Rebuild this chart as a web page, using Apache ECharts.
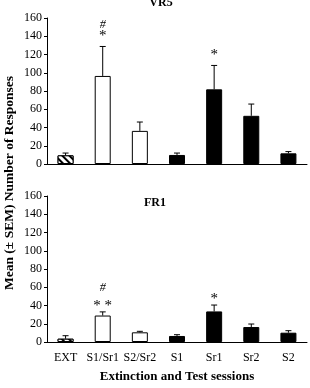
<!DOCTYPE html>
<html>
<head>
<meta charset="utf-8">
<script src="https://cdn.jsdelivr.net/npm/echarts@6/dist/echarts.min.js"></script>
<style>
  html, body { margin: 0; padding: 0; background: #fff; }
  #chart { width: 310px; height: 388px; }
</style>
</head>
<body>
<div id="chart"></div>
<script>
  const categories = ["EXT", "S1/Sr1", "S2/Sr2", "S1", "Sr1", "Sr2", "S2"];
  const yTicks = [0, 20, 40, 60, 80, 100, 120, 140, 160];

  // VR5 (top panel)
  const vr5Mean = [9.5, 96.5, 36.3, 9.9, 81.8, 52.8, 11.7];
  const vr5Upper = [12, 128.8, 46, 12, 108, 65.7, 13.6];
  const vr5Star = ["", "*", "", "", "*", "", ""];
  const vr5Hash = ["", "#", "", "", "", "", ""];

  // FR1 (bottom panel)
  const fr1Mean = [3.6, 29, 10.6, 6.6, 33.5, 16.4, 10.2];
  const fr1Upper = [6.9, 33, 11.7, 8, 40.5, 19.7, 12.4];
  const fr1Star = ["", "* *", "", "", "*", "", ""];
  const fr1Hash = ["", "#", "", "", "", "", ""];

  const fill = ["hatch", "open", "open", "solid", "solid", "solid", "solid"];
  const serif = "Liberation Serif";

  function barData(values) {
    return values.map((v, i) => {
      const item = { value: v, itemStyle: { borderColor: "#000", borderWidth: 1 } };
      if (fill[i] === "solid") {
        item.itemStyle.color = "#000";
      } else {
        item.itemStyle.color = "#fff";
      }
      if (fill[i] === "hatch") {
        item.itemStyle.decal = {
          symbol: "rect",
          color: "#000",
          backgroundColor: "#fff",
          dashArrayX: [1, 0],
          dashArrayY: [2, 3],
          rotation: Math.PI / 4,
        };
      }
      return item;
    });
  }

  function errorSeries(idx, means, uppers, stars, hashes, starGap, hashGap) {
    return {
      type: "custom",
      xAxisIndex: idx,
      yAxisIndex: idx,
      silent: true,
      z: 5,
      data: means.map((m, i) => [i, m, uppers[i]]),
      renderItem: function (params, api) {
        const i = api.value(0);
        const p0 = api.coord([i, api.value(1)]);
        const p1 = api.coord([i, api.value(2)]);
        const cap = 3;
        const children = [
          { type: "line", shape: { x1: p0[0], y1: p0[1], x2: p1[0], y2: p1[1] }, style: { stroke: "#000", lineWidth: 1 } },
          { type: "line", shape: { x1: p1[0] - cap, y1: p1[1], x2: p1[0] + cap, y2: p1[1] }, style: { stroke: "#000", lineWidth: 1 } },
        ];
        if (stars[i]) {
          children.push({ type: "text", x: p1[0], y: p1[1] - starGap, style: { text: stars[i], font: "15px " + serif, fill: "#000", align: "center", verticalAlign: "middle" } });
        }
        if (hashes[i]) {
          children.push({ type: "text", x: p1[0], y: p1[1] - hashGap, style: { text: hashes[i], font: "italic 12px " + serif, fill: "#000", align: "center", verticalAlign: "middle" } });
        }
        return { type: "group", children: children };
      },
    };
  }

  const charts = echarts.init(document.getElementById("chart"));
  const axisLine = { lineStyle: { color: "#000", width: 1 } };
  const axisTick = { length: 3, lineStyle: { color: "#000" } };

  function xAxis(idx, showLabels) {
    return {
      type: "category",
      gridIndex: idx,
      data: categories,
      axisLine: axisLine,
      axisTick: axisTick,
      axisLabel: { show: showLabels, color: "#000", fontFamily: serif, fontSize: 12, margin: 10, interval: 0 },
      name: showLabels ? "Extinction and Test sessions" : "",
      nameLocation: "middle",
      nameGap: 28,
      nameTextStyle: { color: "#000", fontFamily: serif, fontSize: 13, fontWeight: "bold" },
    };
  }

  function yAxis(idx) {
    return {
      type: "value",
      gridIndex: idx,
      min: yTicks[0],
      max: yTicks[yTicks.length - 1],
      interval: yTicks[1] - yTicks[0],
      axisLine: { show: true, lineStyle: { color: "#000", width: 1 } },
      axisTick: { show: true, length: 3, lineStyle: { color: "#000" } },
      axisLabel: { color: "#000", fontFamily: serif, fontSize: 12, margin: 5 },
      splitLine: { show: false },
    };
  }

  const option = {
    backgroundColor: "#fff",
    animation: false,
    grid: [
      { left: 47, right: 3, top: 18, height: 146 },
      { left: 47, right: 3, top: 196, height: 146 },
    ],
    xAxis: [xAxis(0, false), xAxis(1, true)],
    yAxis: [yAxis(0), yAxis(1)],
    graphic: [
      { type: "text", x: 161, y: 3, style: { text: "VR5", font: "bold 12px " + serif, fill: "#000", align: "center", verticalAlign: "middle" } },
      { type: "text", x: 155, y: 203, style: { text: "FR1", font: "bold 12px " + serif, fill: "#000", align: "center", verticalAlign: "middle" } },
      { type: "text", x: 10, y: 183, rotation: Math.PI / 2, style: { text: "Mean (± SEM) Number of Responses", font: "bold 13.5px " + serif, fill: "#000", align: "center", verticalAlign: "middle" } },
    ],
    series: [
      { type: "bar", xAxisIndex: 0, yAxisIndex: 0, barWidth: 16, data: barData(vr5Mean) },
      { type: "bar", xAxisIndex: 1, yAxisIndex: 1, barWidth: 16, data: barData(fr1Mean) },
      errorSeries(0, vr5Mean, vr5Upper, vr5Star, vr5Hash, 10, 22),
      errorSeries(1, fr1Mean, fr1Upper, fr1Star, fr1Hash, 6, 24),
    ],
  };

  charts.setOption(option);
</script>
</body>
</html>
